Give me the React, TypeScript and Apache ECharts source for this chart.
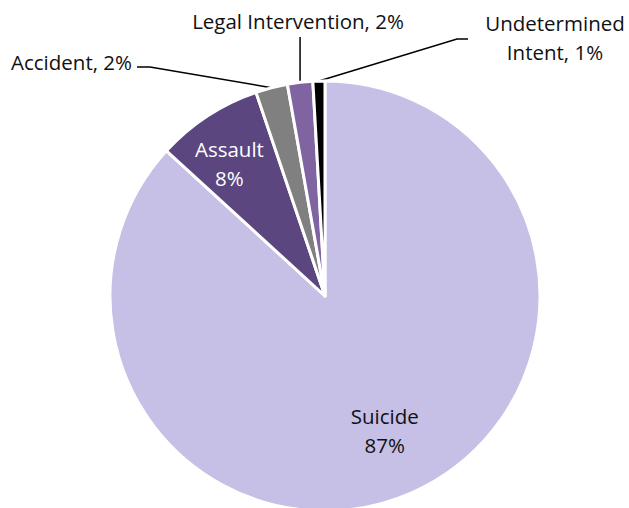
import React, { useEffect, useRef } from "react";
import * as echarts from "echarts";

const categories = ["Suicide", "Assault", "Accident", "Legal Intervention", "Undetermined Intent"];
const values = [86.8, 8.0, 2.4, 1.9, 0.9];
const labelTexts = ["Suicide\n87%", "Assault\n8%", "Accident, 2%", "Legal Intervention, 2%", "Undetermined\nIntent, 1%"];
const colors = ["#C6BFE6", "#5B4680", "#808080", "#8064A2", "#000000"];

const CENTER = [325, 296];
const RADIUS = 215;

export default function App() {
  const ref = useRef<HTMLDivElement>(null);
  useEffect(() => {
    const chart = echarts.init(ref.current!, null, { renderer: "svg" });
    const font = "'Open Sans', 'Liberation Sans', sans-serif";
    const data = categories.map((c, i) => ({
      name: c,
      value: values[i],
      itemStyle: { color: colors[i] },
      label: {
        position: i < 2 ? "inside" : "outside",
        color: i === 1 ? "#ffffff" : "#111111",
        formatter: labelTexts[i],
      },
      labelLine: { show: i >= 2 },
    }));
    const insideScale = [1.34, 1.5];
    const insideShift = [[0, -1], [-5, 6]];
    chart.setOption({
      animation: false,
      backgroundColor: "#ffffff",
      series: [
        {
          type: "pie",
          center: CENTER,
          radius: RADIUS,
          startAngle: 90,
          clockwise: true,
          avoidLabelOverlap: false,
          itemStyle: { borderColor: "#ffffff", borderWidth: 3 },
          label: {
            fontFamily: font,
            fontSize: 20.5,
            lineHeight: 29,
            align: "center",
          },
          labelLine: { lineStyle: { color: "#000000", width: 1.5 } },
          data,
          labelLayout: (p: any) => {
            const i = p.dataIndex;
            const r = p.labelRect;
            if (i < 2) {
              const cx = r.x + r.width / 2;
              const cy = r.y + r.height / 2;
              const k = insideScale[i];
              return {
                x: CENTER[0] + (cx - CENTER[0]) * k + insideShift[i][0],
                y: CENTER[1] + (cy - CENTER[1]) * k + insideShift[i][1],
                align: "center",
                verticalAlign: "middle",
              };
            }
            const edge = p.labelLinePoints ? p.labelLinePoints[0] : [CENTER[0], CENTER[1] - RADIUS];
            if (i === 2) {
              return {
                x: 132,
                y: 62,
                align: "right",
                verticalAlign: "middle",
                labelLinePoints: [edge, [150, 67], [137, 67]],
              };
            }
            if (i === 3) {
              return {
                x: 298,
                y: 21,
                align: "center",
                verticalAlign: "middle",
                labelLinePoints: [edge, [edge[0], 50], [edge[0], 37]],
              };
            }
            return {
              x: 555,
              y: 37,
              align: "center",
              verticalAlign: "middle",
              labelLinePoints: [edge, [457, 39], [468, 39]],
            };
          },
        },
      ],
    });
    return () => chart.dispose();
  }, []);
  return <div ref={ref} style={{ position: "absolute", left: 0, top: 0, width: 629, height: 508 }} />;
}
